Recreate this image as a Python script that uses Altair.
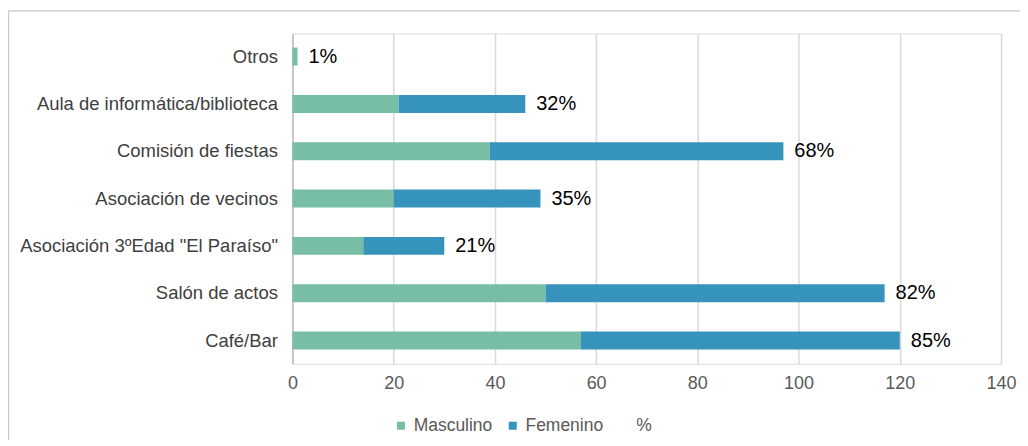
import altair as alt
import pandas as pd

categories = ["Otros", "Aula de informática/biblioteca", "Comisión de fiestas",
              "Asociación de vecinos", "Asociación 3ºEdad \"El Paraíso\"",
              "Salón de actos", "Café/Bar"]
masculino = [1, 21, 39, 20, 14, 50, 57]
femenino = [0, 25, 58, 29, 16, 67, 63]
porcentaje = ["1%", "32%", "68%", "35%", "21%", "82%", "85%"]
series = ["Masculino", "Femenino", "%"]
colors = ["#77bea5", "#3693bc", "transparent"]

rows = []
for c, m, f in zip(categories, masculino, femenino):
    rows.append({"cat": c, "serie": "Masculino", "val": m, "ord": 0})
    rows.append({"cat": c, "serie": "Femenino", "val": f, "ord": 1})
bars_df = pd.DataFrame(rows)
lab_df = pd.DataFrame({"cat": categories,
                       "total": [m + f for m, f in zip(masculino, femenino)],
                       "label": porcentaje})

FONT = "Liberation Sans"

yenc = alt.Y("cat:N", sort=categories, title=None,
             scale=alt.Scale(paddingInner=0.62, paddingOuter=0.3),
             axis=alt.Axis(labelFontSize=18.5, labelColor="#404040", labelFont=FONT,
                           ticks=False, labelPadding=15, domainColor="#bfbfbf",
                           domainWidth=1.5, labelLimit=400))

bars = alt.Chart(bars_df).mark_bar().encode(
    x=alt.X("val:Q", stack="zero", title=None,
            scale=alt.Scale(domain=[0, 140], nice=False),
            axis=alt.Axis(values=[0, 20, 40, 60, 80, 100, 120, 140], domain=False,
                          ticks=False, labelFontSize=18, labelColor="#595959",
                          labelFont=FONT, labelPadding=11, gridColor="#d9d9d9",
                          gridWidth=1.5, labelFlush=False)),
    y=yenc,
    color=alt.Color("serie:N", scale=alt.Scale(domain=series, range=colors),
                    legend=alt.Legend(title=None, orient="none", direction="horizontal",
                                      legendX=100, legendY=384, symbolType="square",
                                      symbolSize=64, symbolStrokeWidth=0,
                                      labelFontSize=17.5, labelColor="#595959",
                                      labelFont=FONT, columnPadding=11,
                                      labelOffset=4)),
    order=alt.Order("ord:Q"),
)

labels = alt.Chart(lab_df).mark_text(align="left", baseline="middle", dx=11,
                                     fontSize=20, font=FONT, color="#000000").encode(
    x=alt.X("total:Q"),
    y=alt.Y("cat:N", sort=categories),
    text="label:N",
)

border = alt.Chart(pd.DataFrame({"a": [0]})).mark_rect(
    fill="transparent", stroke="#c8c8c8", strokeWidth=1.2).encode(
    x=alt.value(-284.5), x2=alt.value(760), y=alt.value(-22.5), y2=alt.value(440))

chart = alt.layer(bars, labels, border).properties(
    width=710, height=331,
    autosize=alt.AutoSizeParams(type="none"),
    padding={"left": 285, "top": 25, "right": 19, "bottom": 76},
).configure_view(stroke=None).configure(background="white")

chart.save("out.html", embed_options={"renderer": "svg", "actions": False})
